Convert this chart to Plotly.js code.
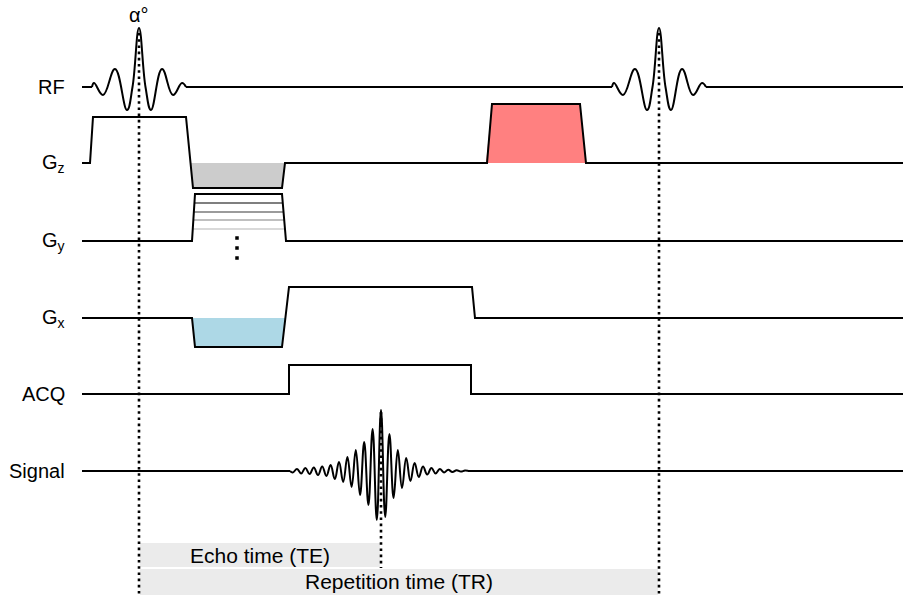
<!DOCTYPE html>
<html>
<head>
<meta charset="utf-8">
<script src="https://cdn.plot.ly/plotly-3.0.1.min.js"></script>
<style>html,body{margin:0;padding:0;background:#fff;}#chart{width:903px;height:595px;}</style>
</head>
<body>
<div id="chart"></div>
<script>
// ---------------- data ----------------
const rowLabels = ['RF', 'G<sub>z</sub>', 'G<sub>y</sub>', 'G<sub>x</sub>', 'ACQ', 'Signal'];
const tStart = 82, tEnd = 903;

// RF sinc pulse (relative time to pulse centre, amplitude)
const rfCenters = [139, 659];
const rfRelT = [-47, -45, -36, -24, -12, -6.5, 0, 6.5, 12, 23, 34, 43, 47];
const rfAmp  = [0, 4, -8, 18, -23, 0, 59, 0, -23, 18, -8, 4, 0];
const flipLabel = 'α°';

// Gz: slice select, rewinder, spoiler
const gzT   = [82, 90, 93, 186, 193, 282, 285, 487, 492, 580, 586, 903];
const gzAmp = [0, 0, 46, 46, -25, -25, 0, 0, 59, 59, 0, 0];
const gzRewT   = [190, 193, 282, 285];
const gzRewAmp = [0, -25, -25, 0];
const gzSpoilT   = [486, 492, 580, 586];
const gzSpoilAmp = [0, 59, 59, 0];

// Gy: phase-encoding table
const gyT   = [82, 192, 195, 282, 286, 903];
const gyAmp = [0, 0, 47, 47, 0, 0];
const gyLevels = [47, 38, 29, 21, 12];
const gyRampT = [192, 195, 282, 286];

// Gx: prephaser + readout
const gxT   = [82, 192, 195, 282, 289, 472, 475, 903];
const gxAmp = [0, 0, -29, -29, 31, 31, 0, 0];
const gxPreT   = [192, 195, 282, 286];
const gxPreAmp = [0, -29, -29, 0];

// ACQ window
const acqT   = [82, 289, 289, 471, 471, 903];
const acqAmp = [0, 0, 29, 29, 0, 0];

// Echo signal extrema
const echoT = [290, 292.8, 297, 301.2, 305.4, 309.6, 313.8, 318, 322.2, 326.4, 330.6, 334.8, 339, 343.2, 347.4,
  351.6, 355.8, 360, 364.2, 368.4, 372.6, 376.8, 381, 385.2, 389.4, 393.6, 397.8, 402, 406.2, 410.4, 414.6,
  418.8, 423, 427.2, 431.4, 435.6, 439.8, 444, 448.2, 452.4, 456.6, 460.8, 465, 469.2, 471];
const echoAmp = [0, -1.5, 2, -2.5, 3, -3, 3.5, -4, 4.5, -5, 6, -8, 9, -11, 14,
  -16, 21, -24, 29, -34, 42, -49, 61, -46, 37, -27, 21, -17, 13, -10, 8,
  -6, 4.5, -3.5, 3, -2.5, 2, -1.5, 1.2, -1, 0.8, -0.6, 0.4, 0, 0];

const echoTime = 381;
const timingLabels = ['Echo time (TE)', 'Repetition time (TR)'];

// ---------------- layout constants ----------------
const rowY = [87, 163, 241, 318, 394, 471];
const FONT = 'Liberation Sans, Arial, sans-serif';
const LW = 2;
const toY = (row, a) => a.map(v => rowY[row] - v);

const traces = [];
function line(x, y, extra) {
  traces.push(Object.assign({type: 'scatter', mode: 'lines', x: x, y: y, hoverinfo: 'skip',
    line: {color: '#000', width: LW, simplify: false}, showlegend: false}, extra || {}));
}
function spline(x, y) {
  line(x, y, {line: {color: '#000', width: LW, shape: 'spline', smoothing: 1.2, simplify: false}});
}
function fillPoly(x, y, color) {
  traces.push({type: 'scatter', mode: 'lines', x: x, y: y, fill: 'toself', fillcolor: color,
    line: {width: 0, color: 'rgba(0,0,0,0)'}, hoverinfo: 'skip', showlegend: false});
}

// RF: flat baseline pieces + spline pulses
{
  const first = rfRelT[0], last = rfRelT[rfRelT.length - 1];
  line([tStart, rfCenters[0] + first], toY(0, [0, 0]));
  line([rfCenters[0] + last, rfCenters[1] + first], toY(0, [0, 0]));
  line([rfCenters[1] + last, tEnd], toY(0, [0, 0]));
  rfCenters.forEach(c => spline(rfRelT.map(t => c + t), toY(0, rfAmp)));
}
// Gz
fillPoly(gzRewT, toY(1, gzRewAmp), '#cccccc');
fillPoly(gzSpoilT, toY(1, gzSpoilAmp), '#ff8080');
line(gzT, toY(1, gzAmp));
// Gy table
const gyColors = ['#000000', '#555555', '#7a7a7a', '#aaaaaa', '#cccccc'];
const gyTop = gyLevels[0];
for (let k = gyLevels.length - 1; k >= 1; k--) {
  const a = gyLevels[k];
  const xl = gyRampT[0] + (gyRampT[1] - gyRampT[0]) * a / gyTop;
  const xr = gyRampT[3] - (gyRampT[3] - gyRampT[2]) * a / gyTop;
  line([xl, xr], toY(2, [a, a]), {line: {color: gyColors[k], width: 1.6}});
}
line(gyT, toY(2, gyAmp));
traces.push({type: 'scatter', mode: 'markers', x: [237, 237, 237], y: [238, 248, 258],
  marker: {symbol: 'square', size: 3.5, color: '#000'}, hoverinfo: 'skip', showlegend: false});
// Gx
fillPoly(gxPreT, toY(3, gxPreAmp), '#add8e6');
line(gxT, toY(3, gxAmp));
// ACQ
line(acqT, toY(4, acqAmp));
// Signal
line([tStart, echoT[0]], toY(5, [0, 0]));
spline(echoT, toY(5, echoAmp));
line([echoT[echoT.length - 1], tEnd], toY(5, [0, 0]));
// Dotted markers
const dotted = {color: '#000', width: 2.6, dash: '2.6px,3.6px'};
line([rfCenters[0], rfCenters[0]], [33, 595], {line: dotted});
line([rfCenters[1], rfCenters[1]], [33, 595], {line: dotted});
line([echoTime, echoTime], [412, 568], {line: dotted});

const shapes = [
  {type: 'rect', layer: 'below', x0: rfCenters[0] + 1, x1: echoTime - 1, y0: 543, y1: 567, fillcolor: '#ebebeb', line: {width: 0}},
  {type: 'rect', layer: 'below', x0: rfCenters[0] + 1, x1: rfCenters[1] - 1, y0: 569, y1: 595, fillcolor: '#ebebeb', line: {width: 0}}
];

const annotations = rowLabels.map((t, i) => ({
  x: 67, y: rowY[i], xref: 'x', yref: 'y', text: t, showarrow: false, xanchor: 'right', yanchor: 'middle',
  font: {family: FONT, size: 20, color: '#000'}
}));
annotations.push({x: rfCenters[0], y: 15, text: flipLabel, showarrow: false, xanchor: 'center', yanchor: 'middle',
  font: {family: FONT, size: 20, color: '#000'}});
annotations.push({x: (rfCenters[0] + echoTime) / 2, y: 555, text: timingLabels[0], showarrow: false,
  xanchor: 'center', yanchor: 'middle', font: {family: FONT, size: 21, color: '#000'}});
annotations.push({x: (rfCenters[0] + rfCenters[1]) / 2, y: 581, text: timingLabels[1], showarrow: false,
  xanchor: 'center', yanchor: 'middle', font: {family: FONT, size: 21, color: '#000'}});

const layout = {
  width: 903, height: 595,
  margin: {l: 0, r: 0, t: 0, b: 0, pad: 0},
  paper_bgcolor: '#fff', plot_bgcolor: '#fff',
  xaxis: {range: [0, 903], visible: false, fixedrange: true},
  yaxis: {range: [595, 0], visible: false, fixedrange: true},
  shapes: shapes, annotations: annotations, showlegend: false
};
Plotly.newPlot('chart', traces, layout, {staticPlot: true, displayModeBar: false});
</script>
</body>
</html>
